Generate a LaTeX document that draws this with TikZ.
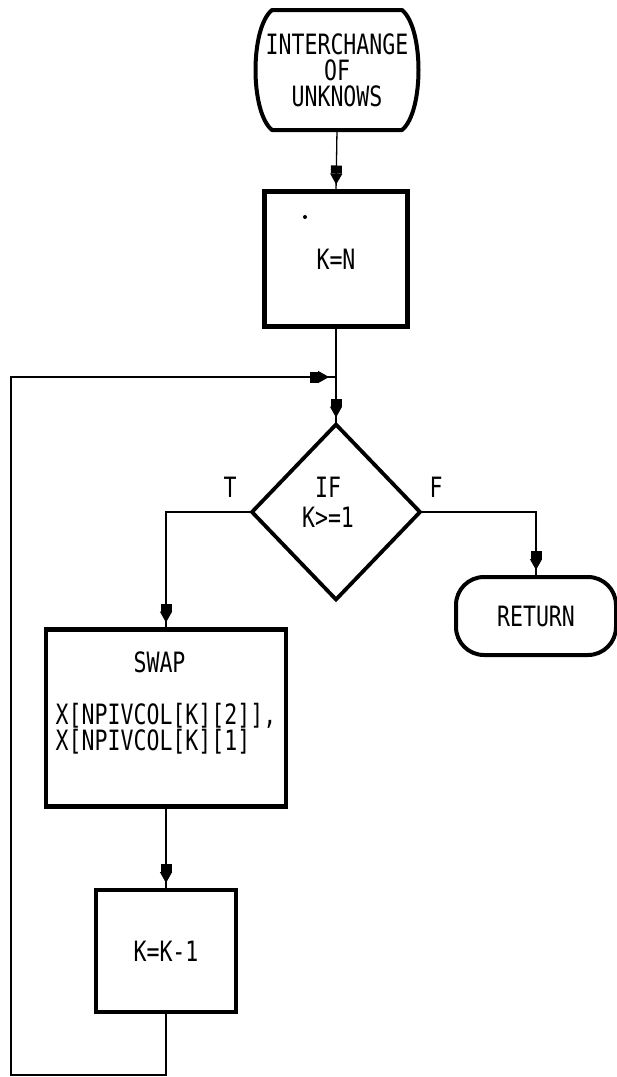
\documentclass[tikz,border=0pt]{standalone}
\usepackage{fontspec}
\newfontfamily\chartfont[FakeStretch=0.77]{DejaVu Sans Mono}
\usetikzlibrary{shapes.geometric,arrows.meta,decorations.markings}

\begin{document}
\begin{tikzpicture}[
    x=1pt, y=-1pt,
    every node/.style={font=\chartfont\fontsize{28}{23}\selectfont, inner sep=0pt, outer sep=0pt},
    box/.style={draw, rectangle, line width=4.5pt},
    termbox/.style={draw, rectangle, line width=4pt, rounded corners=28pt},
    decision/.style={draw, diamond, aspect=1, line width=3.8pt},
    link/.style={line width=1.3pt},
    flow/.style={link, postaction={decorate},
        decoration={markings, mark=at position -7pt with
            {\arrow{Rectangle[length=8pt,width=11pt,sep=0pt]Triangle[length=11pt,width=12pt]}}}},
]
\useasboundingbox (0,0) rectangle (617,1077);

% === Entry terminal ===
\node[minimum width=164pt, minimum height=120pt, align=center] (start) at (337,70)
    {INTERCHANGE\\[3pt]OF\\[3pt]UNKNOWS};
\draw[line width=4pt, line join=round]
    (272,10) -- (402,10) .. controls (424,28) and (424,112) .. (402,130)
    -- (272,130) .. controls (250,112) and (250,28) .. cycle;

% === K=N ===
\node[box, minimum width=143pt, minimum height=135pt] (setk) at (336,259) {K=N};
\fill (305,217) circle (2pt);

% === Test K>=1 ===
\node[decision, minimum width=168pt, minimum height=175pt] (test) at (336,512) {};
\node[align=center] (testtxt) at (328,502) {IF\\[7pt]K>=1};
\node (tlabel) at (230,487) {T};
\node (flabel) at (436,487) {F};

% === Exit terminal ===
\node[termbox, minimum width=160pt, minimum height=78pt] (ret) at (536,616) {RETURN};

% === Swap ===
\node[box, minimum width=240pt, minimum height=177pt] (swap) at (166,718) {};
\node[align=left] (swaptxt) at (166,703)
    {\hphantom{XXXXXX}SWAP\\[29pt]X[NPIVCOL[K][2]],\\X[NPIVCOL[K][1]};

% === K=K-1 ===
\node[box, minimum width=140pt, minimum height=122pt] (kdec) at (166,951) {K=K-1};

% loop points
\coordinate (merge) at (336,377);
\coordinate (loopcorner) at (11,1075);

% === Connectors ===
\draw[flow] (start.south) -- (setk.north);
\draw[link] (setk.south) -- (merge);
\draw[flow] (merge) -- (test.north);
\draw[flow] (test.west) -| (swap.north);
\draw[flow] (test.east) -| (ret.north);
\draw[flow] (swap.south) -- (kdec.north);
\draw[flow] (kdec.south) |- (loopcorner) |- (merge);

\end{tikzpicture}
\end{document}
